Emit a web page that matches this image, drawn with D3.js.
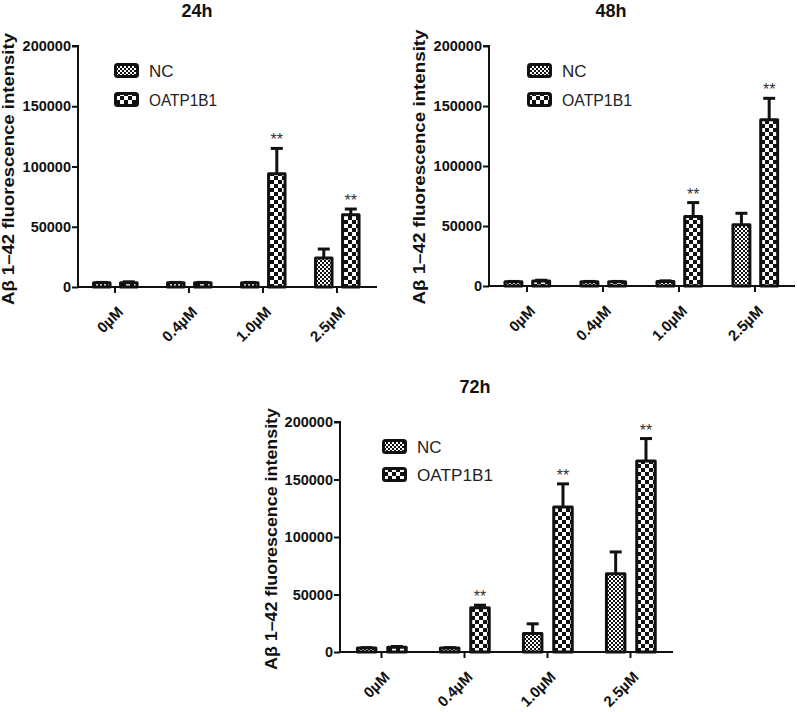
<!DOCTYPE html>
<html><head><meta charset="utf-8">
<script src="https://cdn.jsdelivr.net/npm/d3@7"></script>
<style>
body{margin:0;background:#fff}
text{font-family:"Liberation Sans",Arial,Helvetica,sans-serif}
</style>
</head><body>
<svg id="c" width="797" height="712"></svg>
<script>
// ---- data ----
const categories = ["0µM", "0.4µM", "1.0µM", "2.5µM"];
const seriesNames = ["NC", "OATP1B1"];
const yTickValues = [0, 50000, 100000, 150000, 200000];
const titles = ["24h", "48h", "72h"];
const yLabel = "Aβ 1–42 fluorescence intensity";

const nc24 = [3500, 3500, 3500, 24000];
const nc24Err = [300, 300, 300, 7500];
const oatp24 = [3500, 3500, 94000, 60000];
const oatp24Err = [800, 300, 21000, 4700];
const sig24 = [false, false, true, true];

const nc48 = [3500, 3500, 3800, 51000];
const nc48Err = [300, 300, 500, 9600];
const oatp48 = [4200, 3500, 58000, 138500];
const oatp48Err = [600, 300, 11500, 17900];
const sig48 = [false, false, true, true];

const nc72 = [3500, 3500, 16000, 68000];
const nc72Err = [300, 300, 8500, 19000];
const oatp72 = [4200, 38500, 126000, 166000];
const oatp72Err = [600, 2200, 20200, 19600];
const sig72 = [false, true, true, true];

// ---- layout per panel ----
const panels = [
  {title: titles[0], nc: nc24, ncErr: nc24Err, oa: oatp24, oaErr: oatp24Err, sig: sig24,
   x0: 78, x1: 374, axisEnd: 377, yB: 287, yT: 46, tx: 197, ty: 17,
   lx: 14, ly: 169, lLen: 272, legX: 114, legY: 63, legGap: 29, legTextLen: 68},
  {title: titles[1], nc: nc48, ncErr: nc48Err, oa: oatp48, oaErr: oatp48Err, sig: sig48,
   x0: 489, x1: 793, axisEnd: 795, yB: 286, yT: 46, tx: 611, ty: 17,
   lx: 425, ly: 167, lLen: 275, legX: 527, legY: 63, legGap: 29, legTextLen: 70},
  {title: titles[2], nc: nc72, ncErr: nc72Err, oa: oatp72, oaErr: oatp72Err, sig: sig72,
   x0: 340, x1: 672, axisEnd: 673, yB: 652, yT: 422, tx: 475, ty: 393,
   lx: 277, ly: 539, lLen: 262, legX: 382, legY: 439, legGap: 28, legTextLen: 76}
];

const svg = d3.select("#c");
const defs = svg.append("defs");
const pNC = defs.append("pattern").attr("id", "pNC").attr("width", 4).attr("height", 4)
  .attr("patternUnits", "userSpaceOnUse");
pNC.append("rect").attr("width", 4).attr("height", 4).attr("fill", "#fff");
pNC.append("rect").attr("width", 2).attr("height", 2).attr("fill", "#111");
pNC.append("rect").attr("x", 2).attr("y", 2).attr("width", 2).attr("height", 2).attr("fill", "#111");
const pOA = defs.append("pattern").attr("id", "pOA").attr("width", 8).attr("height", 8)
  .attr("patternUnits", "userSpaceOnUse");
pOA.append("rect").attr("width", 8).attr("height", 8).attr("fill", "#fff");
pOA.append("rect").attr("width", 4).attr("height", 4).attr("fill", "#111");
pOA.append("rect").attr("x", 4).attr("y", 4).attr("width", 4).attr("height", 4).attr("fill", "#111");
const fills = ["url(#pNC)", "url(#pOA)"];

panels.forEach(p => {
  const g = svg.append("g");
  const x = d3.scaleBand().domain(categories).range([p.x0, p.x1]).paddingInner(0).paddingOuter(0);
  const step = x.step();
  const xs = d3.scaleBand().domain(seriesNames).range([0.21 * step, 0.798 * step]).paddingInner(0.39);
  const y = d3.scaleLinear().domain([0, 200000]).range([p.yB, p.yT]);

  // title
  g.append("text").attr("x", p.tx).attr("y", p.ty).attr("text-anchor", "middle")
    .attr("font-weight", "bold").attr("font-size", 18).attr("fill", "#111").text(p.title);

  // y label
  g.append("text").attr("transform", `translate(${p.lx},${p.ly}) rotate(-90)`)
    .attr("text-anchor", "middle").attr("font-weight", "bold").attr("font-size", 17)
    .attr("textLength", p.lLen).attr("lengthAdjust", "spacingAndGlyphs")
    .attr("fill", "#111").text(yLabel);

  // bars
  const rows = categories.map((c, i) => ({c, i, vals: [
    {s: 0, v: p.nc[i], e: p.ncErr[i]}, {s: 1, v: p.oa[i], e: p.oaErr[i]}]}));
  const grp = g.selectAll("g.cat").data(rows).join("g")
    .attr("transform", d => `translate(${x(d.c)},0)`);
  // error bars
  grp.selectAll("line.err").data(d => d.vals).join("line")
    .attr("x1", d => xs(seriesNames[d.s]) + xs.bandwidth() / 2)
    .attr("x2", d => xs(seriesNames[d.s]) + xs.bandwidth() / 2)
    .attr("y1", d => y(d.v)).attr("y2", d => y(d.v + d.e))
    .attr("stroke", "#111").attr("stroke-width", 3);
  grp.selectAll("line.cap").data(d => d.vals).join("line")
    .attr("x1", d => xs(seriesNames[d.s]) + xs.bandwidth() / 2 - 6)
    .attr("x2", d => xs(seriesNames[d.s]) + xs.bandwidth() / 2 + 6)
    .attr("y1", d => y(d.v + d.e)).attr("y2", d => y(d.v + d.e))
    .attr("stroke", "#111").attr("stroke-width", 3);
  grp.selectAll("rect").data(d => d.vals).join("rect")
    .attr("x", d => xs(seriesNames[d.s])).attr("width", xs.bandwidth())
    .attr("y", d => y(d.v)).attr("height", d => y(0) - y(d.v))
    .attr("fill", d => fills[d.s]).attr("stroke", "#111").attr("stroke-width", 3)
    .attr("stroke-linejoin", "round");
  // significance
  grp.filter(d => p.sig[d.i]).append("text")
    .attr("x", xs("OATP1B1") + xs.bandwidth() / 2)
    .attr("y", d => y(d.vals[1].v + d.vals[1].e) - 3)
    .attr("text-anchor", "middle").attr("font-size", 16).attr("fill", "#333").text("**");

  // y axis
  const yAxis = d3.axisLeft(y).tickValues(yTickValues).tickSize(6).tickPadding(1).tickFormat(d3.format("d"));
  const ya = g.append("g").attr("transform", `translate(${p.x0},0)`).call(yAxis);
  ya.select(".domain").attr("stroke", "#111").attr("stroke-width", 2).attr("d", `M-6,${p.yT}H0V${p.yB}`);
  ya.selectAll(".tick line").attr("stroke", "#111").attr("stroke-width", 2);
  ya.selectAll(".tick text").attr("font-size", 14.5).attr("font-weight", "bold").attr("fill", "#111")
    .attr("font-family", "Liberation Sans, Arial, sans-serif");

  // x axis
  const xAxis = d3.axisBottom(x).tickSize(6).tickSizeOuter(0);
  const xa = g.append("g").attr("transform", `translate(0,${p.yB})`).call(xAxis);
  xa.select(".domain").attr("stroke", "#111").attr("stroke-width", 2).attr("d", `M${p.x0},0H${p.axisEnd}`);
  xa.selectAll(".tick line").attr("stroke", "#111").attr("stroke-width", 2);
  xa.selectAll(".tick text").attr("font-size", 15).attr("font-weight", "bold").attr("fill", "#111")
    .attr("font-family", "Liberation Sans, Arial, sans-serif")
    .attr("text-anchor", "end").attr("y", 0).attr("dy", 0)
    .attr("transform", "translate(9,26) rotate(-45)");

  // legend
  seriesNames.forEach((s, k) => {
    const ly = p.legY + k * p.legGap;
    g.append("rect").attr("x", p.legX + 1.5).attr("y", ly + 1.5).attr("width", 22).attr("height", 12)
      .attr("rx", 2).attr("fill", fills[k]).attr("stroke", "#111").attr("stroke-width", 3);
    const t = g.append("text").attr("x", p.legX + 35).attr("y", ly + 14)
      .attr("font-size", 17).attr("fill", "#222").text(s);
    if (k === 1) t.attr("textLength", p.legTextLen).attr("lengthAdjust", "spacingAndGlyphs");
  });
});
</script>
</body></html>
